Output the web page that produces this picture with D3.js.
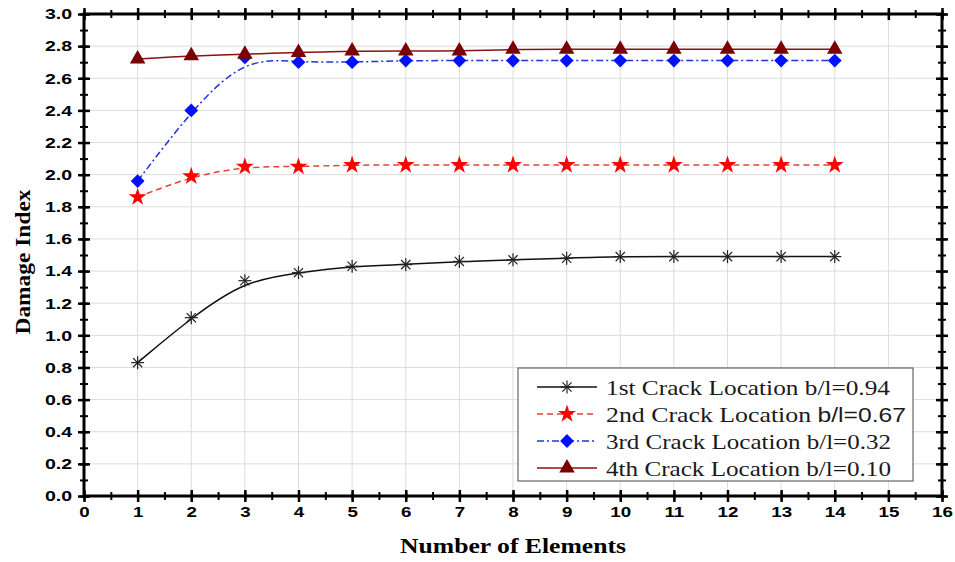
<!DOCTYPE html>
<html>
<head>
<meta charset="utf-8">
<script src="https://cdn.jsdelivr.net/npm/d3@7"></script>
<style>
  body { margin: 0; background: #fff; }
  svg { display: block; }
</style>
</head>
<body>
<svg width="955" height="562"></svg>
<script>
const elements = [1, 2, 3, 4, 5, 6, 7, 8, 9, 10, 11, 12, 13, 14];
const crack1 = [0.83, 1.11, 1.34, 1.39, 1.43, 1.44, 1.46, 1.47, 1.48, 1.49, 1.49, 1.49, 1.49, 1.49];
const crack2 = [1.86, 1.99, 2.05, 2.05, 2.06, 2.06, 2.06, 2.06, 2.06, 2.06, 2.06, 2.06, 2.06, 2.06];
const crack3 = [1.96, 2.40, 2.73, 2.70, 2.70, 2.71, 2.71, 2.71, 2.71, 2.71, 2.71, 2.71, 2.71, 2.71];
const crack4 = [2.72, 2.74, 2.75, 2.76, 2.77, 2.77, 2.77, 2.78, 2.78, 2.78, 2.78, 2.78, 2.78, 2.78];
const xTicks = d3.range(0, 17);
const yTicks = d3.range(0, 31).filter(d => d % 2 === 0).map(d => d / 10);

const series = [
    { name: "1st Crack Location ", tail: "b/l=0.94", values: crack1, color: "#222", line: "#111", dash: null, symbol: "asterisk" },
    { name: "2nd Crack Location ", tail: "b/l=0.67", values: crack2, color: "#ff0000", line: "#e8403a", dash: "6,4", symbol: "star", sansTail: true },
    { name: "3rd Crack Location ", tail: "b/l=0.32", values: crack3, color: "#0010ff", line: "#2233dd", dash: "7,3,2,3", symbol: "diamond" },
    { name: "4th Crack Location ", tail: "b/l=0.10", values: crack4, color: "#7a0000", line: "#8b1010", dash: null, symbol: "triangle" }
];

const svg = d3.select("svg");
const pLeft = 84, pRight = 942, pTop = 14, pBottom = 496;

const x = d3.scaleLinear().domain([0, 16]).range([pLeft, pRight]);
const y = d3.scaleLinear().domain([0, 3]).range([pBottom, pTop]);

// the reference picture is stretched sideways, so widen the text to match
function widen(sel, factor) {
    sel.each(function () {
        const len = this.getComputedTextLength();
        d3.select(this).attr("textLength", len * factor).attr("lengthAdjust", "spacingAndGlyphs");
    });
}

// grid
const grid = svg.append("g").attr("stroke", "#dcdcdc").attr("stroke-width", 1);
grid.selectAll(".vg").data(xTicks.slice(1, -1)).enter().append("line")
    .attr("x1", d => x(d)).attr("x2", d => x(d)).attr("y1", pTop).attr("y2", pBottom);
grid.selectAll(".hg").data(yTicks.slice(1, -1)).enter().append("line")
    .attr("y1", d => y(d)).attr("y2", d => y(d)).attr("x1", pLeft).attr("x2", pRight);

// ticks crossing the frame on all four sides
function crossTicks(axisGen, scale, major, minor, transform) {
    const g = svg.append("g").attr("transform", transform);
    g.call(axisGen(scale).tickValues(minor).tickSize(4).tickFormat(""));
    g.selectAll(".tick line").attr("stroke-width", 2);
    const g2 = svg.append("g").attr("transform", transform);
    g2.call(axisGen(scale).tickValues(major).tickSize(6).tickFormat(""));
    g2.selectAll(".tick line").attr("stroke-width", 2.5);
    g.select(".domain").remove();
    g2.select(".domain").remove();
}
const xMinor = d3.range(0, 33).map(d => d / 2);
const yMinor = d3.range(0, 31).map(d => d / 10);
// outward + inward by drawing both directions
[[d3.axisBottom, `translate(0,${pBottom})`], [d3.axisTop, `translate(0,${pBottom})`],
 [d3.axisTop, `translate(0,${pTop})`], [d3.axisBottom, `translate(0,${pTop})`]]
    .forEach(([a, t]) => crossTicks(a, x, xTicks, xMinor, t));
[[d3.axisLeft, `translate(${pLeft},0)`], [d3.axisRight, `translate(${pLeft},0)`],
 [d3.axisRight, `translate(${pRight},0)`], [d3.axisLeft, `translate(${pRight},0)`]]
    .forEach(([a, t]) => crossTicks(a, y, yTicks, yMinor, t));

// frame
svg.append("rect")
    .attr("x", pLeft).attr("y", pTop)
    .attr("width", pRight - pLeft).attr("height", pBottom - pTop)
    .attr("fill", "none").attr("stroke", "#000").attr("stroke-width", 3);

// tick labels
svg.append("g").attr("transform", `translate(0,${pBottom})`)
    .call(d3.axisBottom(x).tickValues(xTicks).tickSize(0).tickPadding(10).tickFormat(d3.format("d")))
    .call(g => g.select(".domain").remove())
    .selectAll("text")
    .attr("font-family", "Liberation Sans, Arial, sans-serif")
    .attr("font-weight", "bold").attr("font-size", 15).attr("fill", "#000")
    .call(widen, 1.25);

svg.append("g").attr("transform", `translate(${pLeft},0)`)
    .call(d3.axisLeft(y).tickValues(yTicks).tickSize(0).tickPadding(12).tickFormat(d3.format(".1f")))
    .call(g => g.select(".domain").remove())
    .selectAll("text")
    .attr("font-family", "Liberation Sans, Arial, sans-serif")
    .attr("font-weight", "bold").attr("font-size", 15).attr("fill", "#000")
    .call(widen, 1.3);

// axis titles
svg.append("text")
    .attr("x", 513).attr("y", 553)
    .attr("text-anchor", "middle")
    .attr("font-family", "Liberation Serif, Times New Roman, serif")
    .attr("font-weight", "bold").attr("font-size", 20)
    .attr("textLength", 226).attr("lengthAdjust", "spacingAndGlyphs")
    .text("Number of Elements");

svg.append("text")
    .attr("transform", `translate(30,262) rotate(-90)`)
    .attr("text-anchor", "middle")
    .attr("font-family", "Liberation Serif, Times New Roman, serif")
    .attr("font-weight", "bold").attr("font-size", 21)
    .attr("textLength", 145).attr("lengthAdjust", "spacingAndGlyphs")
    .text("Damage Index");

// lines
const lineGen = d3.line()
    .x((d, i) => x(elements[i]))
    .y(d => y(d))
    .curve(d3.curveBasis);

const symbolOf = {
    star: d3.symbol().type(d3.symbolStar).size(100),
    diamond: d3.symbol().type(d3.symbolSquare).size(95),
    triangle: d3.symbol().type(d3.symbolTriangle).size(105)
};

function drawMarker(g, s, cx, cy) {
    if (s.symbol === "asterisk") {
        const r = 6.5;
        const m = g.append("g").attr("transform", `translate(${cx},${cy})`)
            .attr("stroke", s.color).attr("stroke-width", 1.2);
        [0, 45, 90, 135].forEach(a => {
            const rad = a * Math.PI / 180;
            m.append("line")
                .attr("x1", -r * Math.cos(rad)).attr("y1", -r * Math.sin(rad))
                .attr("x2", r * Math.cos(rad)).attr("y2", r * Math.sin(rad));
        });
    } else {
        const rot = s.symbol === "diamond" ? 45 : 0;
        g.append("path")
            .attr("d", symbolOf[s.symbol]())
            .attr("transform", `translate(${cx},${cy}) rotate(${rot})`)
            .attr("fill", s.color);
    }
}

series.forEach(s => {
    svg.append("path")
        .datum(s.values)
        .attr("d", lineGen)
        .attr("fill", "none")
        .attr("stroke", s.line)
        .attr("stroke-width", 1.5)
        .attr("stroke-dasharray", s.dash);
    const g = svg.append("g");
    s.values.forEach((v, i) => drawMarker(g, s, x(elements[i]), y(v)));
});

// legend
const legend = svg.append("g");
legend.append("rect")
    .attr("x", 518).attr("y", 368).attr("width", 395).attr("height", 113)
    .attr("fill", "#fff").attr("stroke", "#666").attr("stroke-width", 1.2);

const rowY = [387, 414, 441, 468];
const rowLen = [284, 300, 285, 285];
series.forEach((s, i) => {
    const ry = rowY[i];
    legend.append("line")
        .attr("x1", 537).attr("x2", 597).attr("y1", ry).attr("y2", ry)
        .attr("stroke", s.line).attr("stroke-width", 1.5)
        .attr("stroke-dasharray", s.dash);
    drawMarker(legend, s, 567, ry);
    const t = legend.append("text")
        .attr("x", 606).attr("y", ry + 8)
        .attr("font-family", "Liberation Serif, Times New Roman, serif")
        .attr("font-size", 22).attr("fill", "#1a1a1a")
        .attr("textLength", rowLen[i]).attr("lengthAdjust", "spacingAndGlyphs");
    t.append("tspan").text(s.name);
    t.append("tspan").text(s.tail)
        .attr("font-family", s.sansTail ? "Liberation Sans, Arial, sans-serif" : null)
        .attr("font-size", s.sansTail ? 21 : null);
});
</script>
</body>
</html>
